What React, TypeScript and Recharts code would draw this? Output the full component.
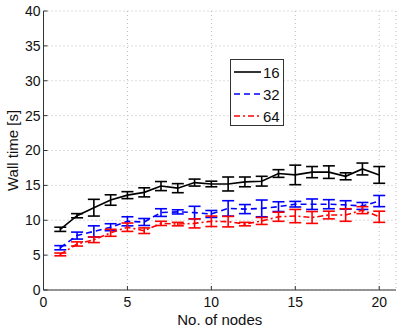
import { ComposedChart, Line, XAxis, YAxis, CartesianGrid, ErrorBar } from 'recharts';

const NODES = [1, 2, 3, 4, 5, 6, 7, 8, 9, 10, 11, 12, 13, 14, 15, 16, 17, 18, 19, 20];
const T16 = [8.7, 10.65, 11.8, 12.9, 13.6, 14.0, 14.9, 14.6, 15.4, 15.2, 15.2, 15.5, 15.6, 16.7, 16.5, 16.9, 16.9, 16.3, 17.35, 16.5];
const E16 = [0.3, 0.3, 1.2, 0.75, 0.5, 0.65, 0.65, 0.65, 0.5, 0.4, 1.0, 0.7, 0.7, 0.55, 1.4, 0.8, 0.9, 0.5, 0.85, 1.2];
const T32 = [6.06, 7.8, 8.4, 9.0, 9.85, 9.75, 11.1, 11.2, 11.1, 10.9, 11.7, 11.6, 11.7, 11.95, 12.3, 12.3, 12.3, 12.2, 12.05, 12.75];
const E32 = [0.3, 0.5, 0.8, 0.5, 0.65, 0.5, 0.55, 0.3, 0.9, 0.5, 1.1, 0.65, 1.2, 0.7, 0.4, 0.75, 0.65, 0.6, 0.5, 0.8];
const T64 = [5.1, 6.6, 7.2, 8.2, 9.0, 8.5, 9.55, 9.45, 9.55, 9.85, 9.8, 9.45, 9.9, 10.5, 10.6, 10.4, 10.75, 10.75, 11.45, 10.5];
const E64 = [0.2, 0.3, 0.4, 0.5, 0.6, 0.4, 0.3, 0.25, 0.65, 0.75, 0.75, 0.25, 0.5, 0.65, 0.95, 0.85, 0.55, 0.9, 0.5, 0.8];

const X_TICKS = [0, 5, 10, 15, 20];
const Y_TICKS = [0, 5, 10, 15, 20, 25, 30, 35, 40];

const SERIES = [
  { key: 't16', err: 'e16', name: '16', color: '#000000', dash: undefined },
  { key: 't32', err: 'e32', name: '32', color: '#0000ff', dash: '6 4' },
  { key: 't64', err: 'e64', name: '64', color: '#ff0000', dash: '6 3 2 3' },
];

const data = NODES.map((n, i) => ({
  n,
  t16: T16[i], e16: E16[i],
  t32: T32[i], e32: E32[i],
  t64: T64[i], e64: E64[i],
}));

const FONT = '"Liberation Sans", Arial, sans-serif';
const TICK = { fontSize: 14, fill: '#111', fontFamily: FONT };
const LABEL = { fontSize: 15, fill: '#111', fontFamily: FONT };

function LegendBox() {
  return (
    <div style={{ position: 'absolute', left: 230, top: 59, width: 54, height: 67, border: '1px solid #333', background: '#fff', boxSizing: 'border-box', fontFamily: FONT, fontSize: 15, paddingTop: 1 }}>
      {SERIES.map((s) => (
        <div key={s.key} style={{ display: 'flex', alignItems: 'center', height: 22 }}>
          <svg width={28} height={10} style={{ marginLeft: 3 }}>
            <line x1={0} y1={5} x2={27} y2={5} stroke={s.color} strokeWidth={1.6} strokeDasharray={s.dash} />
          </svg>
          <span style={{ color: '#111', marginLeft: 1 }}>{s.name}</span>
        </div>
      ))}
    </div>
  );
}

export default function App() {
  return (
    <div style={{ position: 'absolute', left: 0, top: 0, width: 399, height: 327, background: '#fff' }}>
      <ComposedChart width={399} height={327} data={data} margin={{ top: 11, right: 3, left: 0, bottom: 0 }}>
        <CartesianGrid stroke="#bbb" strokeDasharray="1 3" />
        <XAxis
          dataKey="n"
          type="number"
          domain={[0, 21]}
          ticks={X_TICKS}
          tick={TICK}
          tickSize={-4}
          tickMargin={11}
          stroke="#333"
          height={37}
          label={{ value: 'No. of nodes', position: 'insideBottom', offset: 2, style: LABEL }}
        />
        <XAxis xAxisId="top" orientation="top" type="number" domain={[0, 21]} tick={false} tickLine={false} stroke="#333" height={0} />
        <YAxis
          type="number"
          domain={[0, 40]}
          ticks={Y_TICKS}
          tick={TICK}
          tickSize={-4}
          tickMargin={7}
          stroke="#333"
          width={43.5}
          label={{ value: 'Wall time [s]', angle: -90, position: 'insideLeft', offset: 13, style: { ...LABEL, textAnchor: 'middle' } }}
        />
        <YAxis yAxisId="right" orientation="right" type="number" domain={[0, 40]} tick={false} tickLine={false} stroke="#333" width={0} />
        {SERIES.map((s) => (
          <Line
            key={s.key}
            dataKey={s.key}
            name={s.name}
            stroke={s.color}
            strokeWidth={1.6}
            strokeDasharray={s.dash}
            dot={false}
            activeDot={false}
            isAnimationActive={false}
          >
            <ErrorBar dataKey={s.err} direction="y" width={6} stroke={s.color} strokeWidth={1.6} isAnimationActive={false} />
          </Line>
        ))}
      </ComposedChart>
      <LegendBox />
    </div>
  );
}
